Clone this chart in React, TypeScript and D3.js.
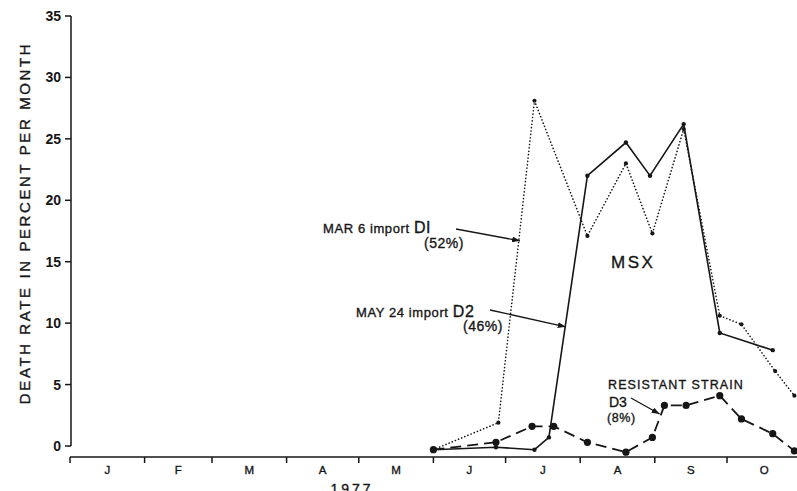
import React from "react";
import * as d3 from "d3";

// month initials along the bottom, Jan..Oct 1977
const monthLabels = ["J", "F", "M", "A", "M", "J", "J", "A", "S", "O"];
const yTicks = [0, 5, 10, 15, 20, 25, 30, 35];

// D1 - Mar 6 import (dotted)
const d1Dates = ["1977-06-01", "1977-06-28", "1977-07-13", "1977-08-04", "1977-08-20", "1977-08-31", "1977-09-13", "1977-09-28", "1977-10-07", "1977-10-21", "1977-10-29"];
const d1Values = [-0.3, 1.9, 28.1, 17.1, 23.0, 17.3, 25.8, 10.6, 9.9, 6.1, 4.1];

// D2 - May 24 import (solid)
const d2Dates = ["1977-06-01", "1977-06-27", "1977-07-13", "1977-07-19", "1977-08-04", "1977-08-20", "1977-08-30", "1977-09-13", "1977-09-28", "1977-10-20"];
const d2Values = [-0.3, -0.1, -0.3, 0.7, 22.0, 24.7, 22.0, 26.2, 9.2, 7.8];

// D3 - resistant strain (dashed)
const d3Dates = ["1977-06-01", "1977-06-27", "1977-07-12", "1977-07-21", "1977-08-04", "1977-08-20", "1977-08-31", "1977-09-05", "1977-09-14", "1977-09-28", "1977-10-07", "1977-10-20", "1977-10-29"];
const d3Values = [-0.3, 0.3, 1.6, 1.6, 0.3, -0.5, 0.7, 3.3, 3.3, 4.1, 2.2, 1.0, -0.4];

const parse = d3.timeParse("%Y-%m-%d");

const W = 797;
const H = 491;
const INK = "#161616";
const FONT = "'Liberation Sans', Arial, sans-serif";

export default function App() {
  const x = d3
    .scaleTime()
    .domain([new Date(1977, 0, 1), new Date(1977, 9, 1)])
    .range([70, 727]);
  const y = d3.scaleLinear().domain([0, 35]).range([446, 16]);

  const toPts = (dates: string[], vals: number[]) =>
    dates.map((d, i) => [x(parse(d) as Date), y(vals[i])] as [number, number]);

  const line = d3.line();
  const p1 = toPts(d1Dates, d1Values);
  const p2 = toPts(d2Dates, d2Values);
  const p3 = toPts(d3Dates, d3Values);

  const monthStarts = d3.range(0, 11).map((m) => new Date(1977, m, 1));
  const axisY = 457;

  // leader tips, in data space
  const tipD1: [number, number] = [x(new Date(1977, 6, 7)), y(16.7)];
  const tipD2: [number, number] = [x(new Date(1977, 6, 26)), y(9.7)];
  const tipD3: [number, number] = [x(new Date(1977, 8, 3)), y(2.6)];

  const txt = { fill: INK, stroke: INK, strokeWidth: 0.35 };

  return (
    <svg
      width={W}
      height={H}
      style={{ position: "fixed", left: 0, top: 0, background: "#fff" }}
      fontFamily={FONT}
    >
      <defs>
        <marker id="arr" viewBox="0 0 8 6" refX="8" refY="3" markerWidth="8" markerHeight="6" orient="auto" markerUnits="userSpaceOnUse">
          <path d="M0,0 L8,3 L0,6 z" fill={INK} />
        </marker>
      </defs>

      {/* y axis */}
      <line x1={71} x2={71} y1={y(35)} y2={y(0)} stroke={INK} strokeWidth={1.5} />
      {yTicks.map((t) => (
        <g key={t}>
          <line x1={65} x2={71} y1={y(t)} y2={y(t)} stroke={INK} strokeWidth={1.5} />
          <text x={61} y={y(t)} dy="0.36em" textAnchor="end" fontSize={14} fontWeight="bold" fill={INK}>
            {t}
          </text>
        </g>
      ))}
      <text
        transform={`translate(25, 223) rotate(-90)`}
        textAnchor="middle"
        dy="0.36em"
        fontSize={15}
        letterSpacing={2.6}
        {...txt}
      >
        DEATH RATE IN PERCENT PER MONTH
      </text>

      {/* x axis */}
      <line x1={70} x2={W} y1={axisY} y2={axisY} stroke={INK} strokeWidth={1.5} />
      {monthStarts.map((d, i) => (
        <line key={i} x1={x(d)} x2={x(d)} y1={axisY} y2={axisY + 6} stroke={INK} strokeWidth={1.5} />
      ))}
      {monthLabels.map((m, i) => (
        <text
          key={i}
          x={(x(monthStarts[i]) + x(monthStarts[i + 1])) / 2}
          y={474}
          textAnchor="middle"
          fontSize={11.5}
          {...txt}
        >
          {m}
        </text>
      ))}
      <text x={352} y={494} textAnchor="middle" fontSize={14} letterSpacing={3} {...txt}>
        1977
      </text>

      {/* D1 dotted */}
      <path d={line(p1) || ""} fill="none" stroke={INK} strokeWidth={1.6} strokeDasharray="0.1 3.3" strokeLinecap="round" />
      {p1.map((p, i) => (
        <circle key={i} cx={p[0]} cy={p[1]} r={2.1} fill={INK} />
      ))}

      {/* D2 solid */}
      <path d={line(p2) || ""} fill="none" stroke={INK} strokeWidth={1.6} />
      {p2.map((p, i) => (
        <circle key={i} cx={p[0]} cy={p[1]} r={2.2} fill={INK} />
      ))}

      {/* D3 dashed */}
      <path d={line(p3) || ""} fill="none" stroke={INK} strokeWidth={1.8} strokeDasharray="11 6" />
      {p3.map((p, i) => (
        <circle key={i} cx={p[0]} cy={p[1]} r={3.6} fill={INK} />
      ))}

      {/* annotations */}
      <g>
        <text x={323} y={233} fontSize={13} letterSpacing={0.6} {...txt}>
          MAR 6 import <tspan fontSize={16}>DI</tspan>
        </text>
        <text x={424} y={248} fontSize={14} letterSpacing={0.5} {...txt}>(52%)</text>
        <line x1={456} y1={229} x2={tipD1[0]} y2={tipD1[1]} stroke={INK} strokeWidth={1.3} markerEnd="url(#arr)" />

        <text x={356} y={317} fontSize={13} letterSpacing={0.6} {...txt}>
          MAY 24 import <tspan fontSize={16}>D2</tspan>
        </text>
        <text x={463} y={331} fontSize={14} letterSpacing={0.5} {...txt}>(46%)</text>
        <line x1={490} y1={310} x2={tipD2[0]} y2={tipD2[1]} stroke={INK} strokeWidth={1.3} markerEnd="url(#arr)" />

        <text x={611} y={268} fontSize={17} letterSpacing={2.5} {...txt}>MSX</text>

        <text x={608} y={389} fontSize={12.5} letterSpacing={1.1} {...txt}>RESISTANT STRAIN</text>
        <text x={609} y={407} fontSize={14} {...txt}>D3</text>
        <text x={607} y={422} fontSize={12.5} letterSpacing={0.6} {...txt}>(8%)</text>
        <line x1={631} y1={398} x2={tipD3[0]} y2={tipD3[1]} stroke={INK} strokeWidth={1.3} markerEnd="url(#arr)" />
      </g>
    </svg>
  );
}
